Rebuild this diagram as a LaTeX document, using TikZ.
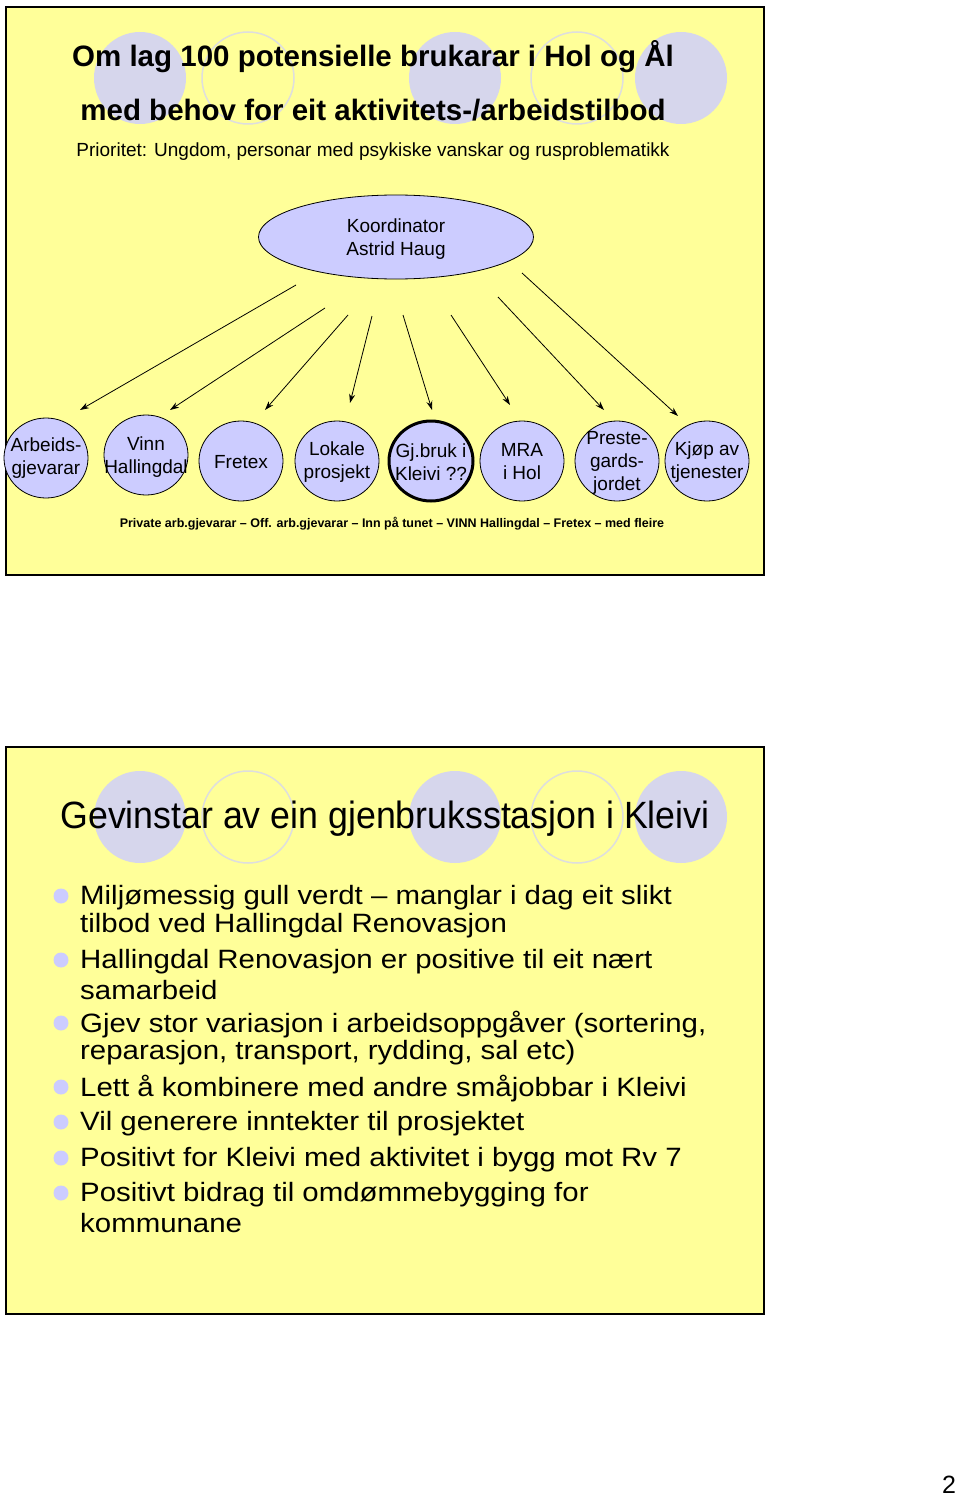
\documentclass[tikz,border=0pt]{standalone}
\usepackage{fontspec}
\setmainfont{Liberation Sans}
\newfontfamily\nfont{Liberation Sans}
\newfontfamily\cfont[FakeStretch=0.94]{Liberation Sans}
\newfontfamily\wfont[FakeStretch=1.11]{Liberation Sans}
\usetikzlibrary{shapes.geometric,arrows.meta}
\definecolor{slidebg}{RGB}{255,255,153}
\definecolor{lav}{RGB}{204,204,255}
\definecolor{deco}{RGB}{214,214,236}
\definecolor{decoline}{RGB}{222,222,222}
\tikzset{
  slide/.style={draw=black,line width=2pt,fill=slidebg},
  decofill/.style={fill=deco},
  decoring/.style={draw=decoline,line width=1.5pt},
  bub/.style={ellipse,draw=black,line width=0.8pt,fill=lav,minimum width=84pt,minimum height=80pt,inner sep=0pt},
  bubtext/.style={align=center,inner sep=0pt,font=\nfont\fontsize{19}{23}\selectfont},
  conn/.style={line width=0.8pt,-{Stealth[length=9pt,width=6pt]}},
  bline/.style={anchor=west,inner sep=0pt,font=\wfont\fontsize{26.5}{28}\selectfont},
  bdot/.style={circle,fill=lav,minimum size=15pt,inner sep=0pt}
}
\begin{document}
\begin{tikzpicture}[x=1pt,y=-1pt]
\useasboundingbox (0,0) rectangle (960,1498);
\fill[white] (0,0) rectangle (960,1498);
% slide 1
\draw[slide] (6,7) rectangle (764,575);
\fill[decofill] (140,78) ellipse [x radius=46pt,y radius=46pt];
\draw[decoring] (248,78) ellipse [x radius=46pt,y radius=46pt];
\fill[decofill] (455,78) ellipse [x radius=46pt,y radius=46pt];
\draw[decoring] (577,78) ellipse [x radius=46pt,y radius=46pt];
\fill[decofill] (681,78) ellipse [x radius=46pt,y radius=46pt];
\node[font=\nfont\bfseries\fontsize{29.5}{32}\selectfont] (t1) at (373,57) {Om lag 100 potensielle brukarar i Hol og Ål};
\node[font=\nfont\bfseries\fontsize{29.5}{32}\selectfont] (t2) at (373,110) {med behov for eit aktivitets-/arbeidstilbod};
\node[font=\nfont\fontsize{19}{22}\selectfont] (t3) at (373,152) {Prioritet: Ungdom, personar med psykiske vanskar og rusproblematikk};
\node[ellipse,draw=black,line width=0.8pt,fill=lav,minimum width=275pt,minimum height=84pt,inner sep=0pt] (koord) at (396,237) {};
\node[bubtext] (koordt) at (396,239) {Koordinator\\Astrid Haug};
\node[bub] (n1) at (46,458) {};
\node[bub] (n2) at (146,455) {};
\node[bub] (n3) at (241,461) {};
\node[bub] (n4) at (337,461) {};
\node[bub,line width=3pt] (n5) at (431,461) {};
\node[bub] (n6) at (522,461) {};
\node[bub] (n7) at (617,461) {};
\node[bub] (n8) at (707,461) {};
\node[bubtext] (n1t) at (46,458) {Arbeids-\\gjevarar};
\node[bubtext] (n2t) at (146,457) {Vinn\\Hallingdal};
\node[bubtext] (n3t) at (241,462) {Fretex};
\node[bubtext] (n4t) at (337,462) {Lokale\\prosjekt};
\node[bubtext] (n5t) at (431,462) {Gj.bruk i\\Kleivi ??};
\node[bubtext] (n6t) at (522,462) {MRA\\i Hol};
\node[bubtext] (n7t) at (617,463) {Preste-\\gards-\\jordet};
\node[bubtext] (n8t) at (707,462) {Kjøp av\\tjenester};
\coordinate (s1) at (296,285); \coordinate (e1) at (80,410);
\coordinate (s2) at (325,308); \coordinate (e2) at (170,410);
\coordinate (s3) at (348,315); \coordinate (e3) at (265,410);
\coordinate (s4) at (372,316); \coordinate (e4) at (350,403);
\coordinate (s5) at (403,315); \coordinate (e5) at (432,410);
\coordinate (s6) at (451,315); \coordinate (e6) at (510,405);
\coordinate (s7) at (498,297); \coordinate (e7) at (604,410);
\coordinate (s8) at (522,273); \coordinate (e8) at (678,416);
\foreach \i in {1,...,8} {\draw[conn] (s\i) -- (e\i);}
\node[font=\nfont\bfseries\fontsize{12.5}{14}\selectfont] (foot) at (392,524) {Private arb.gjevarar – Off. arb.gjevarar – Inn på tunet – VINN Hallingdal – Fretex – med fleire};
% slide 2
\draw[slide] (6,747) rectangle (764,1314);
\fill[decofill] (140,817) ellipse [x radius=46pt,y radius=46pt];
\draw[decoring] (248,817) ellipse [x radius=46pt,y radius=46pt];
\fill[decofill] (455,817) ellipse [x radius=46pt,y radius=46pt];
\draw[decoring] (577,817) ellipse [x radius=46pt,y radius=46pt];
\fill[decofill] (681,817) ellipse [x radius=46pt,y radius=46pt];
\node[font=\cfont\fontsize{38}{42}\selectfont] (t4) at (385,819) {Gevinstar av ein gjenbruksstasjon i Kleivi};
\node[bdot] (d1) at (61,896) {};
\node[bline] (l1) at (80,898) {Miljømessig gull verdt – manglar i dag eit slikt};
\node[bline] (l1b) at (80,926) {tilbod ved Hallingdal Renovasjon};
\node[bdot] (d2) at (61,960) {};
\node[bline] (l2) at (80,962) {Hallingdal Renovasjon er positive til eit nært};
\node[bline] (l2b) at (80,990) {samarbeid};
\node[bdot] (d3) at (61,1023) {};
\node[bline] (l3) at (80,1025) {Gjev stor variasjon i arbeidsoppgåver (sortering,};
\node[bline] (l3b) at (80,1053) {reparasjon, transport, rydding, sal etc)};
\node[bdot] (d4) at (61,1087) {};
\node[bline] (l4) at (80,1089) {Lett å kombinere med andre småjobbar i Kleivi};
\node[bdot] (d5) at (61,1122) {};
\node[bline] (l5) at (80,1124) {Vil generere inntekter til prosjektet};
\node[bdot] (d6) at (61,1158) {};
\node[bline] (l6) at (80,1160) {Positivt for Kleivi med aktivitet i bygg mot Rv 7};
\node[bdot] (d7) at (61,1193) {};
\node[bline] (l7) at (80,1195) {Positivt bidrag til omdømmebygging for};
\node[bline] (l7b) at (80,1223) {kommunane};
\node[font=\nfont\fontsize{25}{27}\selectfont] (pg) at (949,1485) {2};
\end{tikzpicture}
\end{document}
